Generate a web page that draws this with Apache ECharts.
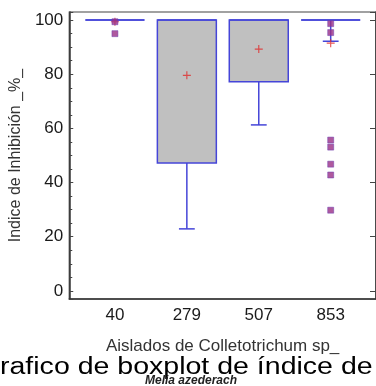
<!DOCTYPE html>
<html>
<head>
<meta charset="utf-8">
<script src="https://cdn.jsdelivr.net/npm/echarts@6/dist/echarts.min.js"></script>
<style>
html, body { margin: 0; padding: 0; background: #fff; }
#chart { width: 376px; height: 386px; }
</style>
</head>
<body>
<div id="chart"></div>
<script>
// aislados
var categories = ['40', '279', '507', '853'];
// caja: bigote inferior, Q1, mediana, Q3, bigote superior
var lowerWhisker = [100, 22.9, 61.3, 92.2];
var q1 = [100, 47.2, 77.2, 100];
var median = [100, 100, 100, 100];
var q3 = [100, 100, 100, 100];
var upperWhisker = [100, 100, 100, 100];
// media (+)
var means = [99.4, 79.6, 89.3, 91.5];
// valores atipicos
var outlierCategory = ['40', '40', '853', '853', '853', '853', '853', '853', '853'];
var outlierValue = [99.4, 95.0, 98.7, 95.4, 55.7, 53.1, 46.8, 42.8, 29.8];

var yTicks = [0, 20, 40, 60, 80, 100];

var fontName = '"Liberation Sans", Arial, sans-serif';
var blue = '#4545d8';
var boxHalf = 0.41;
var capHalf = 0.11;

function renderBox(params, api) {
	var x = api.value(0);
	var lo = api.coord([x, api.value(1)]);
	var b1 = api.coord([x - boxHalf, api.value(2)]);
	var b2 = api.coord([x + boxHalf, api.value(4)]);
	var m1 = api.coord([x - boxHalf, api.value(3)]);
	var m2 = api.coord([x + boxHalf, api.value(3)]);
	var top = api.coord([x, api.value(4)]);
	var bot = api.coord([x, api.value(2)]);
	var hi = api.coord([x, api.value(5)]);
	var capL = api.coord([x - capHalf, api.value(1)]);
	var capR = api.coord([x + capHalf, api.value(1)]);
	var hcapL = api.coord([x - capHalf, api.value(5)]);
	var hcapR = api.coord([x + capHalf, api.value(5)]);
	var lineStyle = { stroke: blue, lineWidth: 1.5, fill: null };
	var children = [];
	// bigote inferior
	if (api.value(1) < api.value(2)) {
		children.push({ type: 'line', shape: { x1: bot[0], y1: bot[1], x2: lo[0], y2: lo[1] }, style: lineStyle });
		children.push({ type: 'line', shape: { x1: capL[0], y1: capL[1], x2: capR[0], y2: capR[1] }, style: lineStyle });
	}
	// bigote superior
	if (api.value(5) > api.value(4)) {
		children.push({ type: 'line', shape: { x1: top[0], y1: top[1], x2: hi[0], y2: hi[1] }, style: lineStyle });
		children.push({ type: 'line', shape: { x1: hcapL[0], y1: hcapL[1], x2: hcapR[0], y2: hcapR[1] }, style: lineStyle });
	}
	children.push({
		type: 'rect',
		shape: { x: b1[0], y: b2[1], width: b2[0] - b1[0], height: b1[1] - b2[1] },
		style: { fill: '#c0c0c0', stroke: blue, lineWidth: 1.5 }
	});
	children.push({ type: 'line', shape: { x1: m1[0], y1: m1[1], x2: m2[0], y2: m2[1] }, style: lineStyle });
	return { type: 'group', children: children };
}

var myChart = echarts.init(document.getElementById('chart'));

var boxData = categories.map(function(c, i) {
	return [i + 1, lowerWhisker[i], q1[i], median[i], q3[i], upperWhisker[i]];
});
var meanData = means.map(function(m, i) { return [i + 1, m]; });
var outlierData = outlierValue.map(function(v, i) {
	return [categories.indexOf(outlierCategory[i]) + 1, v];
});

option = {
	animation: false,
	backgroundColor: '#fff',
	grid: {
		left: 65, top: 12, width: 315, height: 287,
		show: true, borderColor: '#444', borderWidth: 1.2, backgroundColor: 'transparent'
	},
	xAxis: {
		type: 'value',
		min: 0.365,
		max: 4.63,
		splitNumber: 5,
		name: 'Aislados de Colletotrichum sp_',
		nameLocation: 'middle',
		nameGap: 39,
		nameTextStyle: { fontFamily: fontName, fontSize: 17, color: '#333' },
		axisLine: { show: true, onZero: false, lineStyle: { color: '#333', width: 1.5 } },
		axisTick: { show: false },
		splitLine: { show: false },
		axisLabel: {
			margin: 8,
			fontFamily: fontName, fontSize: 17, color: '#1a1a1a',
			showMinLabel: false, showMaxLabel: false,
			formatter: function(v) {
				return Number.isInteger(v) && categories[v - 1] ? categories[v - 1] : '';
			}
		}
	},
	yAxis: [{
		type: 'value',
		min: -3,
		max: 103,
		splitNumber: 5,
		name: 'Indice de Inhibición _%_',
		nameLocation: 'middle',
		nameRotate: 90,
		nameGap: 35,
		nameTextStyle: { fontFamily: fontName, fontSize: 16, color: '#333' },
		axisLine: { show: true, onZero: false, lineStyle: { color: '#333', width: 1.5 } },
		axisTick: { show: true, inside: true, length: 4, lineStyle: { color: '#444' } },
		minorTick: { show: true, splitNumber: 4, length: 3, lineStyle: { color: '#444' } },
		splitLine: { show: false },
		axisLabel: {
			margin: 6,
			fontFamily: fontName, fontSize: 17, color: '#1a1a1a',
			formatter: function(v) { return yTicks.indexOf(v) >= 0 ? String(v) : ''; }
		}
	}, {
		type: 'value',
		position: 'right',
		min: -3,
		max: 103,
		splitNumber: 5,
		axisLine: { show: true, onZero: false, lineStyle: { color: '#333', width: 1.5 } },
		axisTick: { show: true, inside: true, length: 6, lineStyle: { color: '#444' } },
		splitLine: { show: false },
		axisLabel: { show: false }
	}],
	series: [{
		type: 'custom',
		renderItem: renderBox,
		encode: { x: 0, y: [1, 2, 3, 4, 5] },
		data: boxData,
		z: 2
	}, {
		type: 'scatter',
		data: meanData,
		symbol: 'path://M3,0H4V3H7V4H4V7H3V4H0V3H3Z',
		symbolSize: 8,
		itemStyle: { color: '#e02a2a' },
		z: 3
	}, {
		type: 'scatter',
		data: outlierData,
		symbol: 'rect',
		symbolSize: 6,
		itemStyle: { color: '#9a2f86', borderColor: '#6a3ab0', borderWidth: 0.6 },
		z: 4
	}],
	graphic: [{
		type: 'text',
		x: 0,
		y: 368,
		scaleX: 1.24,
		style: {
			text: 'rafico de boxplot de índice de',
			font: '23px ' + fontName,
			fill: '#000',
			verticalAlign: 'middle'
		},
		z: 10
	}, {
		type: 'text',
		x: 145,
		y: 381,
		style: {
			text: 'Melia azederach',
			font: 'italic bold 12px ' + fontName,
			fill: '#222',
			verticalAlign: 'middle'
		},
		z: 11
	}]
};

myChart.setOption(option);
</script>
</body>
</html>
